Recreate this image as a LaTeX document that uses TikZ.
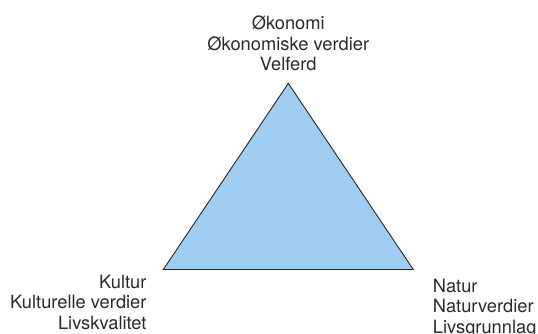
\documentclass[tikz,border=0pt]{standalone}
\usepackage{xcolor}
\usepackage{fontspec}
\setmainfont{TeX Gyre Heros}
\usepackage{tikz}
\usetikzlibrary{positioning}

\definecolor{trifill}{HTML}{9FCEF2}
\definecolor{textgray}{HTML}{2A2A2A}

\begin{document}
\begin{tikzpicture}[x=1pt, y=-1pt,
        corner label/.style={inner sep=0pt, text=textgray,
            font=\fontsize{18.3}{20.6}\selectfont}]
        % the picture is measured in pixels from the top left corner,
        % so the y axis points down here
        \useasboundingbox (0,0) rectangle (538,333);

        % the three corners of the triangle
        \coordinate (okonomi) at (288.3,83.3);
        \coordinate (kultur) at (163.3,269.5);
        \coordinate (natur) at (413.3,269.5);

        % the triangle itself, the fill is a light blue
        \draw[fill=trifill, draw=black!85, line width=0.9pt, line join=miter]
            (okonomi) -- (kultur) -- (natur) -- cycle;

        % the labels at the corners, each one has three lines
        \node[corner label, align=center, anchor=north] (okonomi text) at (288.3,15.6)
            {Økonomi\\Økonomiske verdier\\Velferd};
        \node[corner label, align=right, anchor=north east] (kultur text) at (146.7,274.8)
            {Kultur\\Kulturelle verdier\\Livskvalitet};
        \node[corner label, align=left, anchor=north west] (natur text) at (432.7,278.5)
            {Natur\\Naturverdier\\Livsgrunnlag};
    \end{tikzpicture}
\end{document}
